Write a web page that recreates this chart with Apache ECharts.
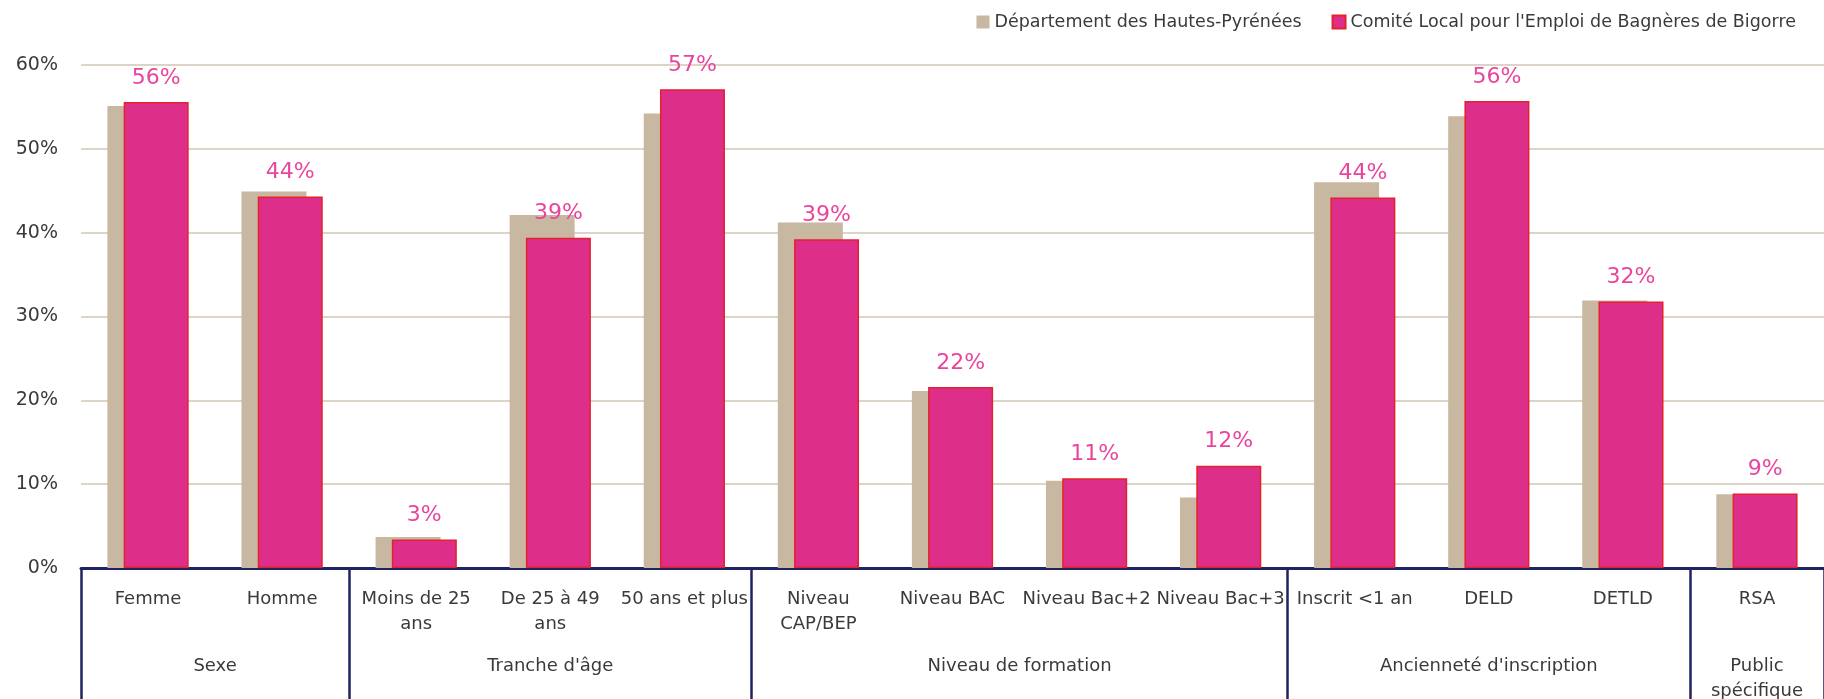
<!DOCTYPE html>
<html lang="fr">
<head>
<meta charset="utf-8">
<title>Profil des demandeurs d'emploi</title>
<script src="https://cdn.jsdelivr.net/npm/echarts@6/dist/echarts.min.js"></script>
<style>
  html, body { margin: 0; padding: 0; background: #ffffff; }
  #chart { width: 1824px; height: 699px; }
</style>
</head>
<body>
<div id="chart"></div>
<script>
// Categories along the bottom axis, grouped by theme
const categories = [
  'Femme', 'Homme',
  'Moins de 25\nans', 'De 25 à 49\nans', '50 ans et plus',
  'Niveau\nCAP/BEP', 'Niveau BAC', 'Niveau Bac+2', 'Niveau Bac+3',
  'Inscrit <1 an', 'DELD', 'DETLD',
  'RSA'
];
const groupNames = ['Sexe', "Tranche d'âge", 'Niveau de formation', "Ancienneté d'inscription", 'Public\nspécifique'];
const groupSizes = [2, 3, 4, 3, 1];

// Shares in percent
const departement = [55.1, 44.9, 3.7, 42.1, 54.2, 41.2, 21.1, 10.4, 8.4, 46.0, 53.9, 31.9, 8.8];
const comiteLocal = [55.6, 44.3, 3.4, 39.4, 57.1, 39.2, 21.6, 10.7, 12.2, 44.2, 55.7, 31.8, 8.9];

const seriesNames = ['Département des Hautes-Pyrénées', "Comité Local pour l'Emploi de Bagnères de Bigorre"];
const yMin = 0, yMax = 60, yStep = 10;

// Group boundaries and centres in category units
const boundaries = [0];
const centres = [];
groupSizes.forEach(n => {
  const start = boundaries[boundaries.length - 1];
  centres.push(start + n / 2);
  boundaries.push(start + n);
});

const FONT = 'DejaVu Sans';
const NAVY = '#1f2461';
const TEXT = '#3a3a3a';

const chart = echarts.init(document.getElementById('chart'), null, { renderer: 'canvas' });
chart.setOption({
  animation: false,
  textStyle: { fontFamily: FONT },
  legend: {
    data: seriesNames,
    right: 23,
    top: 8,
    icon: 'rect',
    itemWidth: 13,
    itemHeight: 13,
    itemGap: 30,
    textStyle: { fontFamily: FONT, fontSize: 17.5, color: TEXT }
  },
  grid: {
    left: 81, right: 0, top: 65, bottom: 131,
    containLabel: false,
    outerBoundsMode: 'none'
  },
  xAxis: [
    {
      type: 'category',
      data: categories,
      axisLine: { lineStyle: { color: NAVY, width: 3 } },
      axisTick: { show: false },
      axisLabel: {
        interval: 0,
        margin: 19,
        fontFamily: FONT,
        fontSize: 18,
        lineHeight: 25,
        color: TEXT
      }
    },
    {
      type: 'value',
      position: 'bottom',
      min: 0,
      max: categories.length,
      axisLine: { show: false },
      splitLine: { show: false },
      axisTick: {
        show: true,
        customValues: boundaries,
        length: 140,
        lineStyle: { color: NAVY, width: 2.5 }
      },
      axisLabel: {
        customValues: centres,
        margin: 86,
        fontFamily: FONT,
        fontSize: 18,
        lineHeight: 25,
        color: TEXT,
        formatter: v => {
          const i = centres.findIndex(c => Math.abs(c - v) < 1e-6);
          return i >= 0 ? groupNames[i] : '';
        }
      }
    }
  ],
  yAxis: {
    type: 'value',
    min: yMin,
    max: yMax,
    interval: yStep,
    axisLine: { show: false },
    axisTick: { show: false },
    axisLabel: {
      formatter: '{value}%',
      margin: 23,
      fontFamily: FONT,
      fontSize: 19,
      color: TEXT
    },
    splitLine: { lineStyle: { color: '#ddd4c8', width: 2 } }
  },
  series: [
    {
      name: seriesNames[0],
      type: 'bar',
      xAxisIndex: 0,
      data: departement,
      barWidth: 65,
      barGap: '-75%',
      itemStyle: { color: '#c8b7a1' }
    },
    {
      name: seriesNames[1],
      type: 'bar',
      xAxisIndex: 0,
      data: comiteLocal,
      barWidth: 65,
      barGap: '-75%',
      itemStyle: { color: '#dd2f8a', borderColor: '#e3222b', borderWidth: 1.5 },
      label: {
        show: true,
        position: 'top',
        distance: 13,
        fontFamily: FONT,
        fontSize: 22,
        color: '#e8459d',
        formatter: p => Math.round(p.value) + '%'
      }
    }
  ]
});
</script>
</body>
</html>
